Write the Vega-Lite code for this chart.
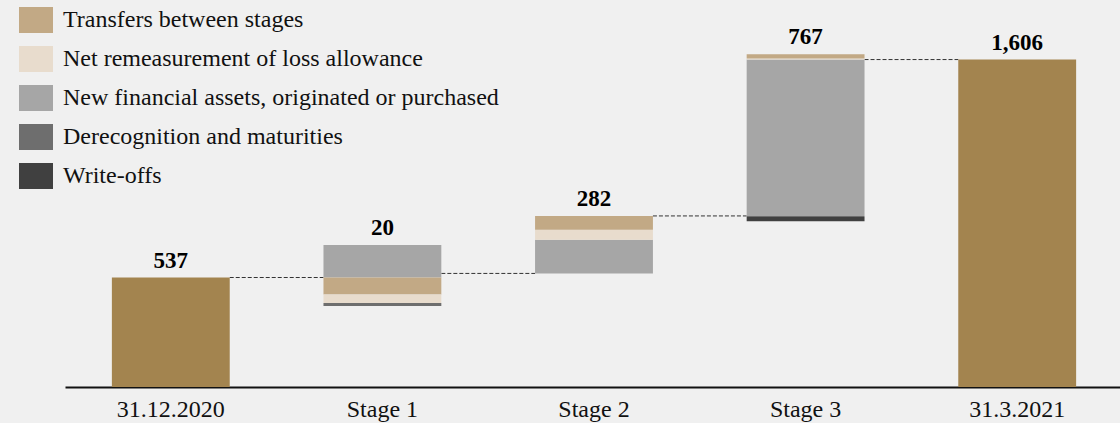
{
  "$schema": "https://vega.github.io/schema/vega-lite/v6.json",
  "width": 1058,
  "height": 367,
  "autosize": "none",
  "padding": {"left": 65, "top": 20, "right": 0, "bottom": 36},
  "background": "#f0f0f0",
  "config": {"view": {"stroke": null}, "font": "Liberation Serif"},
  "datasets": {
    "totals": [
      {"cat": "31.12.2020", "start": 0, "end": 537},
      {"cat": "31.3.2021", "start": 0, "end": 1606}
    ],
    "segments": [
      {"cat": "Stage 1", "series": "New financial assets, originated or purchased", "start": 537, "end": 697},
      {"cat": "Stage 1", "series": "Transfers between stages", "start": 537, "end": 454},
      {"cat": "Stage 1", "series": "Net remeasurement of loss allowance", "start": 454, "end": 412},
      {"cat": "Stage 1", "series": "Derecognition and maturities", "start": 412, "end": 397},
      {"cat": "Stage 2", "series": "New financial assets, originated or purchased", "start": 557, "end": 722},
      {"cat": "Stage 2", "series": "Net remeasurement of loss allowance", "start": 722, "end": 771},
      {"cat": "Stage 2", "series": "Transfers between stages", "start": 771, "end": 839},
      {"cat": "Stage 3", "series": "Derecognition and maturities", "start": 839, "end": 834},
      {"cat": "Stage 3", "series": "Write-offs", "start": 834, "end": 813},
      {"cat": "Stage 3", "series": "New financial assets, originated or purchased", "start": 839, "end": 1606},
      {"cat": "Stage 3", "series": "Net remeasurement of loss allowance", "start": 1606, "end": 1611},
      {"cat": "Stage 3", "series": "Transfers between stages", "start": 1611, "end": 1632}
    ],
    "connectors": [
      {"cat": "31.12.2020", "next": "Stage 1", "level": 537},
      {"cat": "Stage 1", "next": "Stage 2", "level": 557},
      {"cat": "Stage 2", "next": "Stage 3", "level": 839},
      {"cat": "Stage 3", "next": "31.3.2021", "level": 1606}
    ],
    "labels": [
      {"cat": "31.12.2020", "label": "537", "top": 537},
      {"cat": "Stage 1", "label": "20", "top": 697},
      {"cat": "Stage 2", "label": "282", "top": 839},
      {"cat": "Stage 3", "label": "767", "top": 1632},
      {"cat": "31.3.2021", "label": "1,606", "top": 1606}
    ]
  },
  "encoding": {
    "x": {
      "field": "cat",
      "type": "nominal",
      "title": null,
      "scale": {
        "domain": ["31.12.2020", "Stage 1", "Stage 2", "Stage 3", "31.3.2021"],
        "paddingInner": 0.443,
        "paddingOuter": 0.2215
      },
      "axis": {
        "labelAngle": 0,
        "labelFont": "Liberation Serif",
        "labelFontSize": 24,
        "labelColor": "#111111",
        "labelPadding": 10,
        "ticks": false,
        "domainColor": "#111111",
        "domainWidth": 2,
        "grid": false
      }
    }
  },
  "layer": [
    {
      "data": {"name": "connectors"},
      "mark": {"type": "rule", "strokeDash": [4, 2], "color": "#333333", "strokeWidth": 1},
      "encoding": {
        "x": {"field": "cat", "type": "nominal", "bandPosition": 1},
        "x2": {"field": "next", "bandPosition": 0},
        "y": {"field": "level", "type": "quantitative", "scale": {"domain": [0, 1800]}, "axis": null}
      }
    },
    {
      "data": {"name": "totals"},
      "mark": {"type": "bar", "color": "#A3844F"},
      "encoding": {
        "y": {"field": "start", "type": "quantitative", "scale": {"domain": [0, 1800]}, "axis": null},
        "y2": {"field": "end"}
      }
    },
    {
      "data": {"name": "segments"},
      "mark": {"type": "bar"},
      "encoding": {
        "y": {"field": "start", "type": "quantitative", "scale": {"domain": [0, 1800]}, "axis": null},
        "y2": {"field": "end"},
        "color": {
          "field": "series",
          "type": "nominal",
          "scale": {
            "domain": ["Transfers between stages", "Net remeasurement of loss allowance", "New financial assets, originated or purchased", "Derecognition and maturities", "Write-offs"],
            "range": ["#C2A985", "#E8DCCD", "#A6A6A6", "#6E6E6E", "#404040"]
          },
          "legend": {
            "orient": "none",
            "legendX": -46,
            "legendY": -17,
            "title": null,
            "padding": 0,
            "symbolType": "M-1,-0.765H1V0.765H-1Z",
            "symbolSize": 1156,
            "symbolStrokeWidth": 0,
            "symbolOpacity": 1,
            "labelFont": "Liberation Serif",
            "labelFontSize": 24,
            "labelColor": "#111111",
            "labelOffset": 10,
            "labelLimit": 0,
            "rowPadding": 8
          }
        }
      }
    },
    {
      "data": {"name": "labels"},
      "mark": {"type": "text", "fontWeight": "bold", "fontSize": 23, "font": "Liberation Serif", "color": "#000000", "dy": -10, "baseline": "alphabetic"},
      "encoding": {
        "y": {"field": "top", "type": "quantitative", "scale": {"domain": [0, 1800]}, "axis": null},
        "text": {"field": "label"}
      }
    }
  ]
}
